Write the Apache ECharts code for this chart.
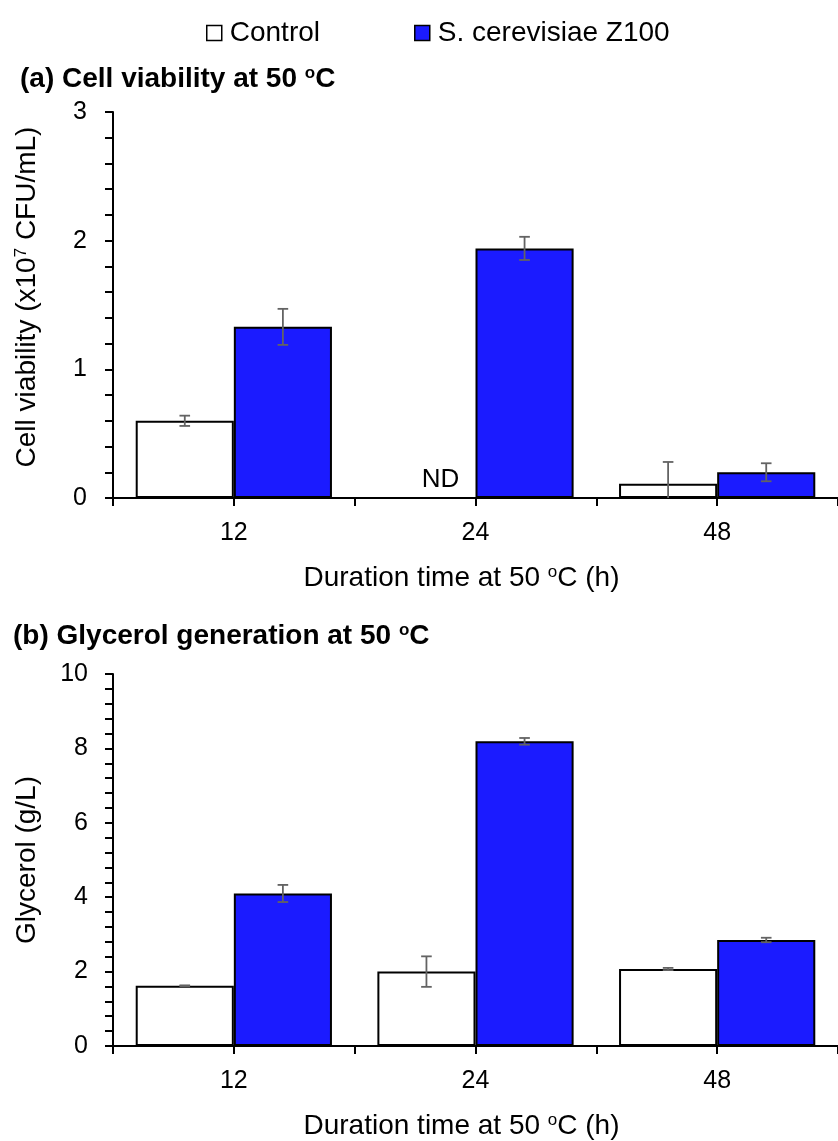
<!DOCTYPE html>
<html>
<head>
<meta charset="utf-8">
<script src="https://cdn.jsdelivr.net/npm/echarts@6/dist/echarts.min.js"></script>
<style>
html,body{margin:0;padding:0;background:#fff;}
#chart{width:838px;height:1141px;}
</style>
</head>
<body>
<div id="chart"></div>
<script>
// ---- data ----
const hours = ['12', '24', '48'];
const seriesNames = ['Control', 'S. cerevisiae Z100'];
const viabControl = [0.60, 0, 0.11];
const viabControlErr = [0.04, 0, 0.17];
const viabControlNotes = ['', 'ND', ''];
const viabZ100 = [1.33, 1.94, 0.20];
const viabZ100Err = [0.14, 0.09, 0.07];
const glyControl = [1.62, 2.00, 2.07];
const glyControlErr = [0.01, 0.41, 0.03];
const glyZ100 = [4.10, 8.19, 2.85];
const glyZ100Err = [0.23, 0.09, 0.06];
const viabTicks = [0, 1, 2, 3];
const glyTicks = [0, 2, 4, 6, 8, 10];
const halfTicks = ['', '', '', '', '', ''];

// ---- style ----
const FONT = '"Liberation Sans", Arial, sans-serif';
const BLUE = '#1B1BFF';
const GAP = 0.188;
const ERR_COLOR = '#636363';

const chart = echarts.init(document.getElementById('chart'), null, {renderer: 'canvas'});

const supRich = (size) => ({
  t: {fontSize: size, fontFamily: FONT, color: '#000'},
  s: {fontSize: Math.round(size * 0.62), fontFamily: FONT, color: '#000', verticalAlign: 'top'}
});
const supRichBold = (size) => ({
  t: {fontSize: size, fontFamily: FONT, color: '#000', fontWeight: 'bold'},
  s: {fontSize: Math.round(size * 0.62), fontFamily: FONT, color: '#000', fontWeight: 'bold', verticalAlign: 'top'}
});

function errSeries(name, vals, errs, side, xi, yi) {
  return {
    type: 'custom',
    name: name + ' err',
    xAxisIndex: xi, yAxisIndex: yi,
    z: 5,
    silent: true,
    data: hours.map((h, i) => [i, vals[i], errs[i]]),
    encode: {x: 0, y: 1},
    renderItem: function (params, api) {
      const i = api.value(0), v = api.value(1), e = api.value(2);
      if (!e) return null;
      const catW = api.size([1, 0])[0];
      const bw = catW * (1 - GAP) / 2;
      const cx = api.coord([i, v])[0] + side * bw / 2;
      const yTop = api.coord([i, v + e])[1];
      const low = v - e;
      const clipped = low < 0;
      const yBot = api.coord([i, Math.max(0, low)])[1];
      const cap = 5.3;
      const st = {stroke: ERR_COLOR, lineWidth: 1.8};
      const children = [
        {type: 'line', shape: {x1: cx, y1: yTop, x2: cx, y2: yBot}, style: st},
        {type: 'line', shape: {x1: cx - cap, y1: yTop, x2: cx + cap, y2: yTop}, style: st}
      ];
      if (!clipped) children.push({type: 'line', shape: {x1: cx - cap, y1: yBot, x2: cx + cap, y2: yBot}, style: st});
      return {type: 'group', children: children};
    }
  };
}

function barSeries(name, vals, color, xi, yi, notes) {
  return {
    type: 'bar',
    name: name,
    xAxisIndex: xi, yAxisIndex: yi,
    barGap: '0%',
    barCategoryGap: (GAP * 100) + '%',
    itemStyle: {color: color, borderColor: '#000', borderWidth: 2},
    data: vals.map((v, i) => {
      const d = {value: v};
      if (notes && notes[i]) {
        d.label = {show: true, formatter: notes[i], position: 'top', distance: 4, offset: [14, 0],
          fontSize: 26, fontFamily: FONT, color: '#000'};
      }
      return d;
    })
  };
}

function mainX(gi) {
  return {
    type: 'category', gridIndex: gi, data: hours, position: 'bottom',
    axisLine: {show: true, lineStyle: {color: '#000', width: 2}},
    axisTick: {show: false},
    axisLabel: {fontSize: 25, fontFamily: FONT, color: '#000', margin: 23},
    name: '{t|Duration time at 50 }{s|o}{t|C (h)}',
    nameLocation: 'middle', nameGap: 66,
    nameTextStyle: {rich: supRich(28), padding: [0, 28, 0, 0]}
  };
}
function tickX(gi) {
  return {
    type: 'category', gridIndex: gi, data: halfTicks, position: 'bottom',
    axisLine: {show: false},
    axisTick: {show: true, length: 8, lineStyle: {color: '#000', width: 2}},
    axisLabel: {show: false}
  };
}

const option = {
  backgroundColor: '#fff',
  animation: false,
  textStyle: {fontFamily: FONT},
  legend: {
    data: seriesNames,
    left: 201, top: 14,
    icon: 'rect',
    itemWidth: 15, itemHeight: 15,
    itemGap: 94,
    itemStyle: {borderWidth: 1.5, borderColor: '#000'},
    textStyle: {fontSize: 28, fontFamily: FONT, color: '#000', padding: [0, 0, 0, 3]}
  },
  title: [
    {text: '{t|(a) Cell viability at 50 }{s|o}{t|C}', left: 15, top: 60,
      textStyle: {rich: supRichBold(28)}},
    {text: '{t|(b) Glycerol generation at 50 }{s|o}{t|C}', left: 8, top: 617,
      textStyle: {rich: supRichBold(28)}}
  ],
  grid: [
    {left: 113, top: 112, width: 729.5, height: 386, containLabel: false},
    {left: 113, top: 674, width: 729.5, height: 376, containLabel: false}
  ],
  xAxis: [mainX(0), tickX(0), mainX(1), tickX(1)],
  yAxis: [
    {
      type: 'value', gridIndex: 0, min: viabTicks[0], max: viabTicks[viabTicks.length - 1], interval: 1,
      axisLine: {show: true, lineStyle: {color: '#000', width: 2}},
      axisTick: {show: true, length: 8, lineStyle: {color: '#000', width: 2}},
      minorTick: {show: true, splitNumber: 5, length: 8, lineStyle: {color: '#000', width: 2}},
      splitLine: {show: false},
      axisLabel: {fontSize: 25, fontFamily: FONT, color: '#000', margin: 26},
      name: '{t|Cell viability (x10}{s|7}{t| CFU/mL)}',
      nameLocation: 'middle', nameGap: 72,
      nameTextStyle: {rich: supRich(28), padding: [0, 0, 0, 16]}
    },
    {
      type: 'value', gridIndex: 1, min: glyTicks[0], max: glyTicks[glyTicks.length - 1], interval: 2,
      axisLine: {show: true, lineStyle: {color: '#000', width: 2}},
      axisTick: {show: true, length: 8, lineStyle: {color: '#000', width: 2}},
      minorTick: {show: true, splitNumber: 5, length: 8, lineStyle: {color: '#000', width: 2}},
      splitLine: {show: false},
      axisLabel: {fontSize: 25, fontFamily: FONT, color: '#000', margin: 25},
      name: 'Glycerol (g/L)',
      nameLocation: 'middle', nameGap: 72,
      nameTextStyle: {fontSize: 28, fontFamily: FONT, color: '#000'}
    }
  ],
  series: [
    barSeries(seriesNames[0], viabControl, '#fff', 0, 0, viabControlNotes),
    barSeries(seriesNames[1], viabZ100, BLUE, 0, 0),
    errSeries(seriesNames[0], viabControl, viabControlErr, -1, 0, 0),
    errSeries(seriesNames[1], viabZ100, viabZ100Err, 1, 0, 0),
    barSeries(seriesNames[0], glyControl, '#fff', 2, 1),
    barSeries(seriesNames[1], glyZ100, BLUE, 2, 1),
    errSeries(seriesNames[0], glyControl, glyControlErr, -1, 2, 1),
    errSeries(seriesNames[1], glyZ100, glyZ100Err, 1, 2, 1)
  ]
};
chart.setOption(option);
</script>
</body>
</html>
